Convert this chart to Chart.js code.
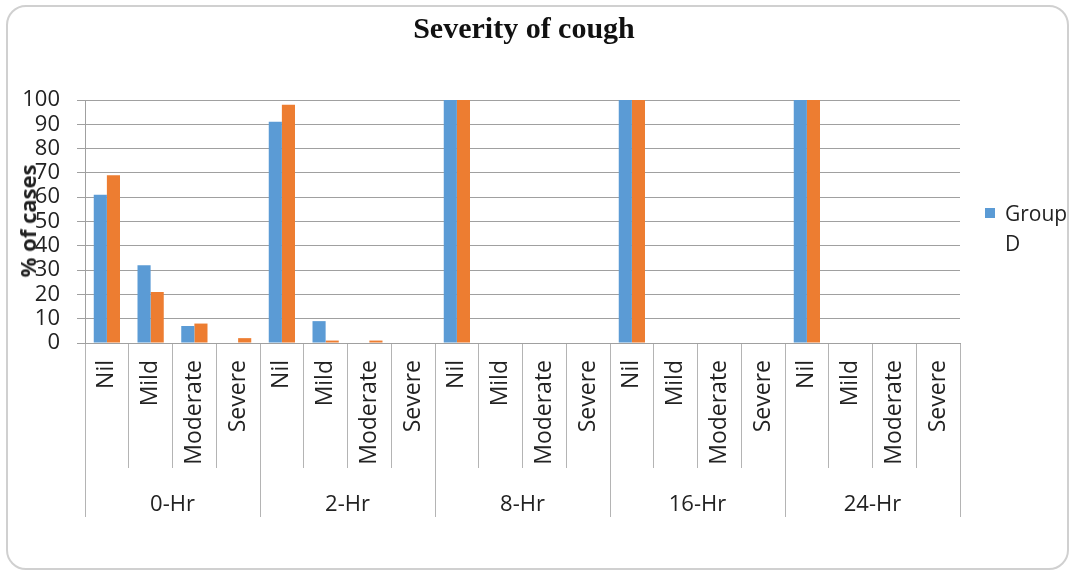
<!DOCTYPE html>
<html>
<head>
<meta charset="utf-8">
<script src="https://cdn.jsdelivr.net/npm/chart.js@4/dist/chart.umd.min.js"></script>
<style>
  html, body { margin: 0; padding: 0; background: #fff; }
  #wrap { position: relative; width: 1074px; height: 573px; overflow: hidden; font-family: "Open Sans", sans-serif; color: #222; }
  #frame { position: absolute; left: 6px; top: 5px; width: 1059px; height: 561px; border: 2px solid #d0d0d0; border-radius: 20px; }
  #title { position: absolute; left: 0; width: 1048px; top: 13px; text-align: center; font: bold 30px/30px "Liberation Serif", serif; color: #111; }
  #ytitle { position: absolute; left: 27px; top: 221px; transform: translate(-50%, -50%) rotate(-90deg); white-space: nowrap; font: bold 22px/26px "Open Sans", sans-serif; color: #222; }
  #legend { position: absolute; left: 985px; top: 198px; font: 21px/30px "Open Sans", sans-serif; color: #222; }
  #legend .box { position: absolute; left: 0; top: 10px; width: 10px; height: 10px; background: #5B9BD5; }
  #legend .txt { position: absolute; left: 20px; top: 0; }
  #c { position: absolute; left: 0; top: 0; }
</style>
</head>
<body>
<div id="wrap">
  <div id="frame"></div>
  <canvas id="c" width="1074" height="573"></canvas>
  <div id="title">Severity of cough</div>
  <div id="ytitle">% of cases</div>
  <div id="legend"><div class="box"></div><div class="txt">Group<br>D</div></div>
</div>
<script>
  // categories: severity within each time point
  var groups = ['0-Hr', '2-Hr', '8-Hr', '16-Hr', '24-Hr'];
  var severities = ['Nil', 'Mild', 'Moderate', 'Severe'];
  var labels = [];
  groups.forEach(function () { severities.forEach(function (s) { labels.push(s); }); });

  // % of cases
  var groupD = [61, 32, 7, 0, 91, 9, 0, 0, 100, 0, 0, 0, 100, 0, 0, 0, 100, 0, 0, 0];
  var groupOther = [69, 21, 8, 2, 98, 1, 1, 0, 100, 0, 0, 0, 100, 0, 0, 0, 100, 0, 0, 0];

  var yTicks = { min: 0, max: 100, step: 10 };

  var GRID = '#a0a0a0';
  var SEP = '#b4b4b4';

  new Chart(document.getElementById('c'), {
    type: 'bar',
    data: {
      labels: labels,
      datasets: [
        { label: 'Group D', data: groupD, backgroundColor: '#5B9BD5', xAxisID: 'x', barPercentage: 1, categoryPercentage: 0.6 },
        { label: 'Group', data: groupOther, backgroundColor: '#ED7D31', xAxisID: 'x', barPercentage: 1, categoryPercentage: 0.6 }
      ]
    },
    options: {
      responsive: false,
      animation: false,
      layout: { padding: { left: 0, right: 114, top: 100, bottom: 56 } },
      plugins: { legend: { display: false }, title: { display: false }, tooltip: { enabled: false } },
      scales: {
        y: {
          min: yTicks.min,
          max: yTicks.max,
          afterFit: function (s) { s.width = 85; },
          ticks: { stepSize: yTicks.step, autoSkip: false, padding: 17, color: '#222', font: { family: 'Open Sans', size: 22, lineHeight: 1 } },
          grid: { color: GRID, lineWidth: 1, drawTicks: true, tickLength: 8, tickColor: GRID },
          border: { display: true, color: GRID, width: 1 }
        },
        x: {
          type: 'category',
          position: 'bottom',
          offset: true,
          afterFit: function (s) { s.height = 125; },
          ticks: { autoSkip: false, minRotation: 90, maxRotation: 90, padding: -108, color: '#222', font: { family: 'Open Sans', size: 23, lineHeight: 1 } },
          grid: { offset: true, drawOnChartArea: false, drawTicks: true, tickLength: 125, color: SEP, tickColor: SEP },
          border: { display: true, color: GRID, width: 1 }
        },
        x2: {
          type: 'category',
          position: 'bottom',
          labels: groups,
          offset: true,
          afterFit: function (s) { s.height = 49; },
          ticks: { autoSkip: false, maxRotation: 0, minRotation: 0, padding: -23, color: '#222', font: { family: 'Open Sans', size: 22, lineHeight: 1 } },
          grid: { offset: true, drawOnChartArea: false, drawTicks: true, tickLength: 49, color: SEP, tickColor: SEP },
          border: { display: false }
        }
      }
    }
  });
</script>
</body>
</html>
